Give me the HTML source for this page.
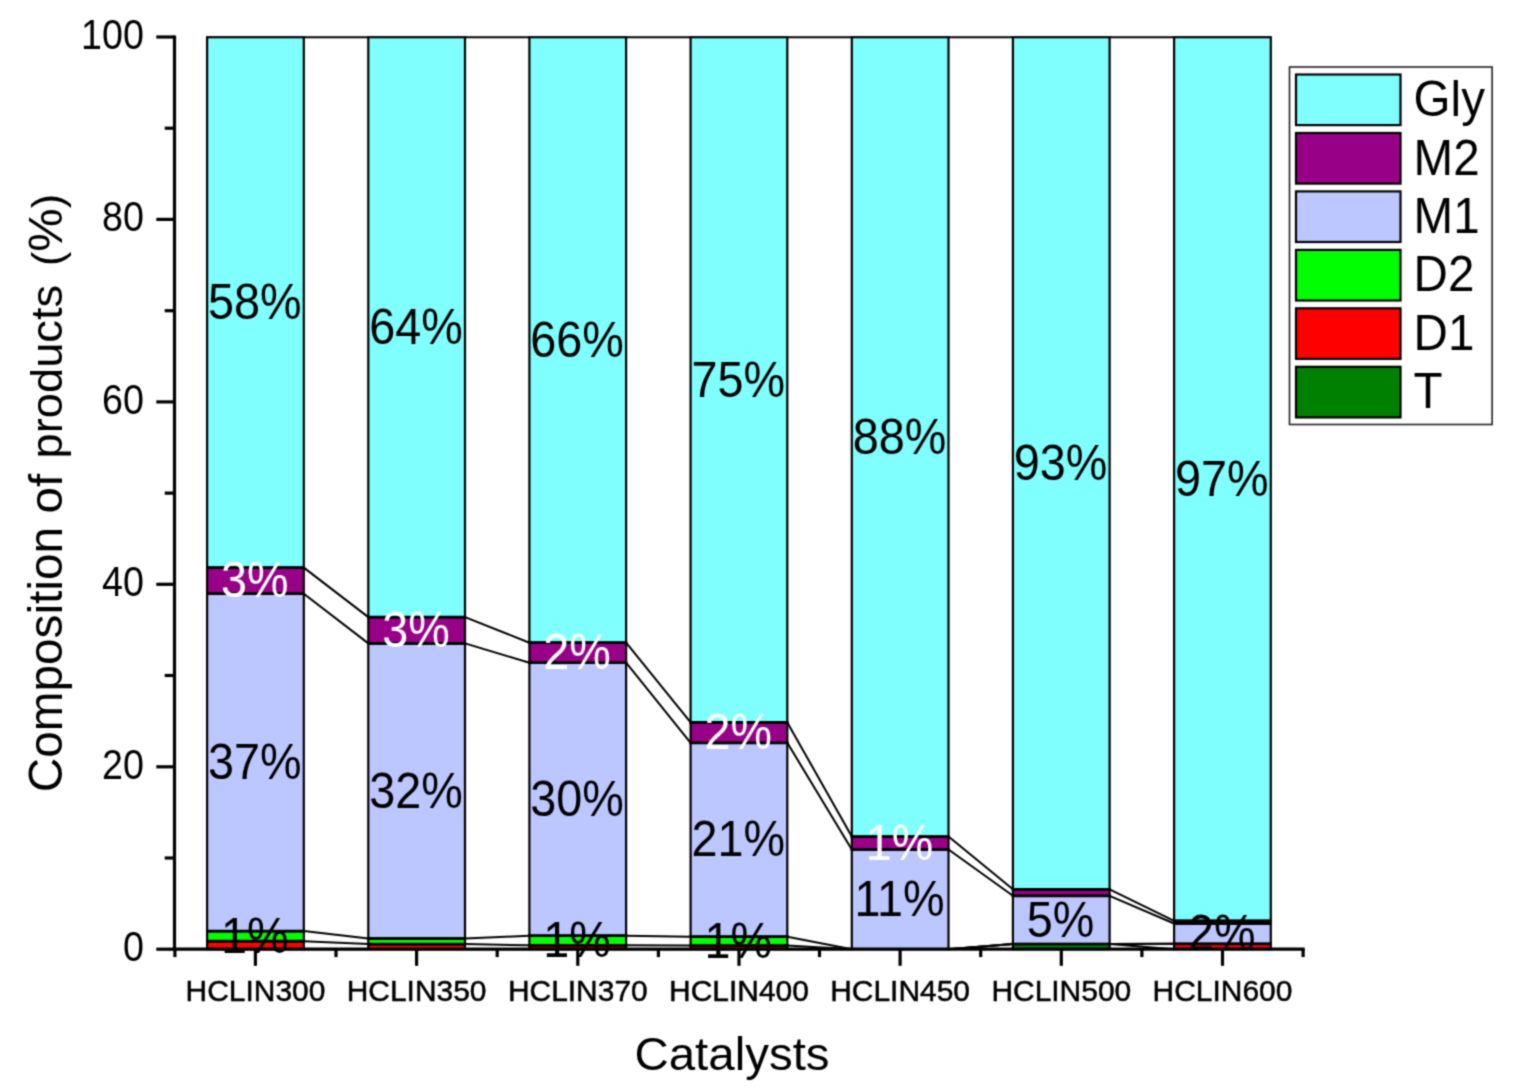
<!DOCTYPE html>
<html lang="en"><head><meta charset="utf-8"><title>Composition of products</title>
<style>html,body{margin:0;padding:0;background:#fff}body{width:1515px;height:1089px;overflow:hidden}svg{display:block}text{font-family:"Liberation Sans", Arial, sans-serif}</style></head><body>
<svg width="1515" height="1089" viewBox="0 0 1515 1089">
<defs><filter id="soft" x="0" y="0" width="1515" height="1089" filterUnits="userSpaceOnUse" color-interpolation-filters="sRGB"><feConvolveMatrix order="3" kernelMatrix="0.0400 0.1200 0.0400 0.1200 0.3600 0.1200 0.0400 0.1200 0.0400" edgeMode="duplicate" preserveAlpha="true"/></filter></defs>
<g filter="url(#soft)">
<rect width="1515" height="1089" fill="#fff"/>
<g stroke="#000" stroke-width="2" fill="none">
<line x1="303.8" y1="949.2" x2="368.3" y2="949.2"/>
<line x1="303.8" y1="941.2" x2="368.3" y2="944.1"/>
<line x1="303.8" y1="931.1" x2="368.3" y2="938.4"/>
<line x1="303.8" y1="593.7" x2="368.3" y2="643.4"/>
<line x1="303.8" y1="567.6" x2="368.3" y2="617.1"/>
<line x1="303.8" y1="37.2" x2="368.3" y2="37.2"/>
<line x1="465.0" y1="949.2" x2="529.4" y2="949.2"/>
<line x1="465.0" y1="944.1" x2="529.4" y2="945.3"/>
<line x1="465.0" y1="938.4" x2="529.4" y2="935.7"/>
<line x1="465.0" y1="643.4" x2="529.4" y2="662.7"/>
<line x1="465.0" y1="617.1" x2="529.4" y2="642.7"/>
<line x1="465.0" y1="37.2" x2="529.4" y2="37.2"/>
<line x1="626.1" y1="949.2" x2="690.6" y2="949.2"/>
<line x1="626.1" y1="945.3" x2="690.6" y2="945.6"/>
<line x1="626.1" y1="935.7" x2="690.6" y2="936.7"/>
<line x1="626.1" y1="662.7" x2="690.6" y2="742.8"/>
<line x1="626.1" y1="642.7" x2="690.6" y2="722.4"/>
<line x1="626.1" y1="37.2" x2="690.6" y2="37.2"/>
<line x1="787.3" y1="949.2" x2="851.8" y2="949.2"/>
<line x1="787.3" y1="945.6" x2="851.8" y2="949.2"/>
<line x1="787.3" y1="936.7" x2="851.8" y2="949.2"/>
<line x1="787.3" y1="742.8" x2="851.8" y2="849.5"/>
<line x1="787.3" y1="722.4" x2="851.8" y2="836.6"/>
<line x1="787.3" y1="37.2" x2="851.8" y2="37.2"/>
<line x1="948.5" y1="949.2" x2="1012.9" y2="944.0"/>
<line x1="948.5" y1="949.2" x2="1012.9" y2="944.0"/>
<line x1="948.5" y1="949.2" x2="1012.9" y2="944.0"/>
<line x1="948.5" y1="849.5" x2="1012.9" y2="895.8"/>
<line x1="948.5" y1="836.6" x2="1012.9" y2="889.3"/>
<line x1="948.5" y1="37.2" x2="1012.9" y2="37.2"/>
<line x1="1109.6" y1="944.0" x2="1174.1" y2="949.2"/>
<line x1="1109.6" y1="944.0" x2="1174.1" y2="943.8"/>
<line x1="1109.6" y1="944.0" x2="1174.1" y2="943.8"/>
<line x1="1109.6" y1="895.8" x2="1174.1" y2="923.5"/>
<line x1="1109.6" y1="889.3" x2="1174.1" y2="920.8"/>
<line x1="1109.6" y1="37.2" x2="1174.1" y2="37.2"/>
</g>
<g stroke="#000" stroke-width="2.2">
<rect x="207.1" y="941.2" width="96.7" height="8.0" fill="#ff0000"/>
<rect x="207.1" y="931.1" width="96.7" height="10.1" fill="#00ff00"/>
<rect x="207.1" y="593.7" width="96.7" height="337.4" fill="#bcc6ff"/>
<rect x="207.1" y="567.6" width="96.7" height="26.1" fill="#990088"/>
<rect x="207.1" y="37.2" width="96.7" height="530.4" fill="#80ffff"/>
<rect x="368.3" y="944.1" width="96.7" height="5.1" fill="#ff0000"/>
<rect x="368.3" y="938.4" width="96.7" height="5.7" fill="#00ff00"/>
<rect x="368.3" y="643.4" width="96.7" height="295.0" fill="#bcc6ff"/>
<rect x="368.3" y="617.1" width="96.7" height="26.3" fill="#990088"/>
<rect x="368.3" y="37.2" width="96.7" height="579.9" fill="#80ffff"/>
<rect x="529.4" y="945.3" width="96.7" height="3.9" fill="#ff0000"/>
<rect x="529.4" y="935.7" width="96.7" height="9.6" fill="#00ff00"/>
<rect x="529.4" y="662.7" width="96.7" height="273.0" fill="#bcc6ff"/>
<rect x="529.4" y="642.7" width="96.7" height="20.0" fill="#990088"/>
<rect x="529.4" y="37.2" width="96.7" height="605.5" fill="#80ffff"/>
<rect x="690.6" y="945.6" width="96.7" height="3.6" fill="#ff0000"/>
<rect x="690.6" y="936.7" width="96.7" height="8.9" fill="#00ff00"/>
<rect x="690.6" y="742.8" width="96.7" height="193.9" fill="#bcc6ff"/>
<rect x="690.6" y="722.4" width="96.7" height="20.4" fill="#990088"/>
<rect x="690.6" y="37.2" width="96.7" height="685.2" fill="#80ffff"/>
<rect x="851.8" y="849.5" width="96.7" height="99.7" fill="#bcc6ff"/>
<rect x="851.8" y="836.6" width="96.7" height="12.9" fill="#990088"/>
<rect x="851.8" y="37.2" width="96.7" height="799.4" fill="#80ffff"/>
<rect x="1012.9" y="944.0" width="96.7" height="5.2" fill="#008000"/>
<rect x="1012.9" y="895.8" width="96.7" height="48.2" fill="#bcc6ff"/>
<rect x="1012.9" y="889.3" width="96.7" height="6.5" fill="#990088"/>
<rect x="1012.9" y="37.2" width="96.7" height="852.1" fill="#80ffff"/>
<rect x="1174.1" y="943.8" width="96.7" height="5.4" fill="#ff0000"/>
<rect x="1174.1" y="923.5" width="96.7" height="20.3" fill="#bcc6ff"/>
<rect x="1174.1" y="920.8" width="96.7" height="2.7" fill="#990088"/>
<rect x="1174.1" y="37.2" width="96.7" height="883.6" fill="#80ffff"/>
</g>
<g stroke="#000" stroke-width="2.7" fill="none">
<line x1="206.0" y1="941.2" x2="304.9" y2="941.2"/>
<line x1="206.0" y1="931.1" x2="304.9" y2="931.1"/>
<line x1="206.0" y1="593.7" x2="304.9" y2="593.7"/>
<line x1="206.0" y1="567.6" x2="304.9" y2="567.6"/>
<line x1="367.2" y1="944.1" x2="466.1" y2="944.1"/>
<line x1="367.2" y1="938.4" x2="466.1" y2="938.4"/>
<line x1="367.2" y1="643.4" x2="466.1" y2="643.4"/>
<line x1="367.2" y1="617.1" x2="466.1" y2="617.1"/>
<line x1="528.3" y1="945.3" x2="627.2" y2="945.3"/>
<line x1="528.3" y1="935.7" x2="627.2" y2="935.7"/>
<line x1="528.3" y1="662.7" x2="627.2" y2="662.7"/>
<line x1="528.3" y1="642.7" x2="627.2" y2="642.7"/>
<line x1="689.5" y1="945.6" x2="788.4" y2="945.6"/>
<line x1="689.5" y1="936.7" x2="788.4" y2="936.7"/>
<line x1="689.5" y1="742.8" x2="788.4" y2="742.8"/>
<line x1="689.5" y1="722.4" x2="788.4" y2="722.4"/>
<line x1="850.7" y1="849.5" x2="949.6" y2="849.5"/>
<line x1="850.7" y1="836.6" x2="949.6" y2="836.6"/>
<line x1="1011.8" y1="944.0" x2="1110.8" y2="944.0"/>
<line x1="1011.8" y1="895.8" x2="1110.8" y2="895.8"/>
<line x1="1011.8" y1="889.3" x2="1110.8" y2="889.3"/>
<line x1="1173.0" y1="943.8" x2="1271.9" y2="943.8"/>
<line x1="1173.0" y1="923.5" x2="1271.9" y2="923.5"/>
<line x1="1173.0" y1="920.8" x2="1271.9" y2="920.8"/>
</g>
<g stroke="#000" stroke-width="3.2" fill="none" stroke-linecap="butt">
<line x1="174.5" y1="35.4" x2="174.5" y2="950.8000000000001"/>
<line x1="172.9" y1="949.2" x2="1304.6999999999998" y2="949.2"/>
<line x1="156.3" y1="949.2" x2="174.5" y2="949.2"/>
<line x1="164.7" y1="858.0" x2="174.5" y2="858.0"/>
<line x1="156.3" y1="766.8" x2="174.5" y2="766.8"/>
<line x1="164.7" y1="675.5" x2="174.5" y2="675.5"/>
<line x1="156.3" y1="584.3" x2="174.5" y2="584.3"/>
<line x1="164.7" y1="493.1" x2="174.5" y2="493.1"/>
<line x1="156.3" y1="401.9" x2="174.5" y2="401.9"/>
<line x1="164.7" y1="310.7" x2="174.5" y2="310.7"/>
<line x1="156.3" y1="219.4" x2="174.5" y2="219.4"/>
<line x1="164.7" y1="128.2" x2="174.5" y2="128.2"/>
<line x1="156.3" y1="37.0" x2="174.5" y2="37.0"/>
<line x1="174.9" y1="949.2" x2="174.9" y2="957.1"/>
<line x1="255.4" y1="949.2" x2="255.4" y2="965.8000000000001"/>
<line x1="336.0" y1="949.2" x2="336.0" y2="957.1"/>
<line x1="416.6" y1="949.2" x2="416.6" y2="965.8000000000001"/>
<line x1="497.2" y1="949.2" x2="497.2" y2="957.1"/>
<line x1="577.8" y1="949.2" x2="577.8" y2="965.8000000000001"/>
<line x1="658.4" y1="949.2" x2="658.4" y2="957.1"/>
<line x1="739.0" y1="949.2" x2="739.0" y2="965.8000000000001"/>
<line x1="819.5" y1="949.2" x2="819.5" y2="957.1"/>
<line x1="900.1" y1="949.2" x2="900.1" y2="965.8000000000001"/>
<line x1="980.7" y1="949.2" x2="980.7" y2="957.1"/>
<line x1="1061.3" y1="949.2" x2="1061.3" y2="965.8000000000001"/>
<line x1="1141.9" y1="949.2" x2="1141.9" y2="957.1"/>
<line x1="1222.5" y1="949.2" x2="1222.5" y2="965.8000000000001"/>
<line x1="1303.1" y1="949.2" x2="1303.1" y2="957.1"/>
</g>
<text transform="translate(143.90 961.10) scale(0.89 1)" font-size="42.3" fill="#000" text-anchor="end">0</text>
<text transform="translate(143.90 778.66) scale(0.89 1)" font-size="42.3" fill="#000" text-anchor="end">20</text>
<text transform="translate(143.90 596.22) scale(0.89 1)" font-size="42.3" fill="#000" text-anchor="end">40</text>
<text transform="translate(143.90 413.78) scale(0.89 1)" font-size="42.3" fill="#000" text-anchor="end">60</text>
<text transform="translate(143.90 231.34) scale(0.89 1)" font-size="42.3" fill="#000" text-anchor="end">80</text>
<text transform="translate(143.90 48.90) scale(0.89 1)" font-size="42.3" fill="#000" text-anchor="end">100</text>
<text transform="translate(255.45 1001.30) scale(0.992 1)" font-size="30.2" fill="#000" text-anchor="middle" stroke="#000" stroke-width="0.5">HCLIN300</text>
<text transform="translate(416.62 1001.30) scale(0.992 1)" font-size="30.2" fill="#000" text-anchor="middle" stroke="#000" stroke-width="0.5">HCLIN350</text>
<text transform="translate(577.79 1001.30) scale(0.992 1)" font-size="30.2" fill="#000" text-anchor="middle" stroke="#000" stroke-width="0.5">HCLIN370</text>
<text transform="translate(738.96 1001.30) scale(0.992 1)" font-size="30.2" fill="#000" text-anchor="middle" stroke="#000" stroke-width="0.5">HCLIN400</text>
<text transform="translate(900.13 1001.30) scale(0.992 1)" font-size="30.2" fill="#000" text-anchor="middle" stroke="#000" stroke-width="0.5">HCLIN450</text>
<text transform="translate(1061.30 1001.30) scale(0.992 1)" font-size="30.2" fill="#000" text-anchor="middle" stroke="#000" stroke-width="0.5">HCLIN500</text>
<text transform="translate(1222.47 1001.30) scale(0.992 1)" font-size="30.2" fill="#000" text-anchor="middle" stroke="#000" stroke-width="0.5">HCLIN600</text>
<text transform="translate(732.00 1070.30) scale(1.012 1)" font-size="46.9" fill="#000" text-anchor="middle">Catalysts</text>
<text transform="translate(61.5 493.7) rotate(-90) scale(1 0.99)" text-anchor="start"><tspan x="-298.6" font-size="47.75">Composition</tspan> <tspan x="-19.8" font-size="47.6">of</tspan> <tspan x="35.3" font-size="45.25">products</tspan> <tspan x="227.7" font-size="44.0"><tspan font-size="43">(</tspan><tspan font-size="48.8">%</tspan><tspan font-size="43">)</tspan></tspan></text>
<text transform="translate(254.75 319.10) scale(0.935 1)" font-size="50.0" fill="#000" text-anchor="middle">58%</text>
<text transform="translate(415.92 343.85) scale(0.935 1)" font-size="50.0" fill="#000" text-anchor="middle">64%</text>
<text transform="translate(577.09 356.65) scale(0.935 1)" font-size="50.0" fill="#000" text-anchor="middle">66%</text>
<text transform="translate(738.26 396.50) scale(0.935 1)" font-size="50.0" fill="#000" text-anchor="middle">75%</text>
<text transform="translate(899.43 453.60) scale(0.935 1)" font-size="50.0" fill="#000" text-anchor="middle">88%</text>
<text transform="translate(1060.60 479.95) scale(0.935 1)" font-size="50.0" fill="#000" text-anchor="middle">93%</text>
<text transform="translate(1221.77 495.70) scale(0.935 1)" font-size="50.0" fill="#000" text-anchor="middle">97%</text>
<text transform="translate(254.75 597.35) scale(0.935 1)" font-size="50.0" fill="#fff" text-anchor="middle">3%</text>
<text transform="translate(415.92 646.95) scale(0.935 1)" font-size="50.0" fill="#fff" text-anchor="middle">3%</text>
<text transform="translate(577.09 669.40) scale(0.935 1)" font-size="50.0" fill="#fff" text-anchor="middle">2%</text>
<text transform="translate(738.26 749.30) scale(0.935 1)" font-size="50.0" fill="#fff" text-anchor="middle">2%</text>
<text transform="translate(899.43 859.75) scale(0.935 1)" font-size="50.0" fill="#fff" text-anchor="middle">1%</text>
<text transform="translate(254.75 779.10) scale(0.935 1)" font-size="50.0" fill="#000" text-anchor="middle">37%</text>
<text transform="translate(415.92 807.60) scale(0.935 1)" font-size="50.0" fill="#000" text-anchor="middle">32%</text>
<text transform="translate(577.09 815.90) scale(0.935 1)" font-size="50.0" fill="#000" text-anchor="middle">30%</text>
<text transform="translate(738.26 856.45) scale(0.935 1)" font-size="50.0" fill="#000" text-anchor="middle">21%</text>
<text transform="translate(899.43 916.05) scale(0.935 1)" font-size="50.0" fill="#000" text-anchor="middle">11%</text>
<text transform="translate(1060.60 936.60) scale(0.935 1)" font-size="50.0" fill="#000" text-anchor="middle">5%</text>
<text transform="translate(1221.77 950.35) scale(0.935 1)" font-size="50.0" fill="#000" text-anchor="middle">2%</text>
<text transform="translate(254.75 952.85) scale(0.935 1)" font-size="50.0" fill="#000" text-anchor="middle">1%</text>
<text transform="translate(577.09 957.20) scale(0.935 1)" font-size="50.0" fill="#000" text-anchor="middle">1%</text>
<text transform="translate(738.26 957.85) scale(0.935 1)" font-size="50.0" fill="#000" text-anchor="middle">1%</text>
<rect x="1289.5" y="67" width="202.6" height="357.5" fill="#fff" stroke="#222" stroke-width="1.6"/>
<rect x="1296" y="74.5" width="104.5" height="50.6" fill="#80ffff" stroke="#000" stroke-width="2.2"/>
<text transform="translate(1413.60 116.10) scale(0.955 1)" font-size="49.8" fill="#000" text-anchor="start">Gly</text>
<rect x="1296" y="133.0" width="104.5" height="50.6" fill="#990088" stroke="#000" stroke-width="2.2"/>
<text transform="translate(1413.60 174.55) scale(0.955 1)" font-size="49.8" fill="#000" text-anchor="start">M2</text>
<rect x="1296" y="191.4" width="104.5" height="50.6" fill="#bcc6ff" stroke="#000" stroke-width="2.2"/>
<text transform="translate(1413.60 233.00) scale(0.955 1)" font-size="49.8" fill="#000" text-anchor="start">M1</text>
<rect x="1296" y="249.9" width="104.5" height="50.6" fill="#00ff00" stroke="#000" stroke-width="2.2"/>
<text transform="translate(1413.60 291.45) scale(0.955 1)" font-size="49.8" fill="#000" text-anchor="start">D2</text>
<rect x="1296" y="308.3" width="104.5" height="50.6" fill="#ff0000" stroke="#000" stroke-width="2.2"/>
<text transform="translate(1413.60 349.90) scale(0.955 1)" font-size="49.8" fill="#000" text-anchor="start">D1</text>
<rect x="1296" y="366.8" width="104.5" height="50.6" fill="#008000" stroke="#000" stroke-width="2.2"/>
<text transform="translate(1413.60 408.35) scale(0.955 1)" font-size="49.8" fill="#000" text-anchor="start">T</text>
</g></svg></body></html>
